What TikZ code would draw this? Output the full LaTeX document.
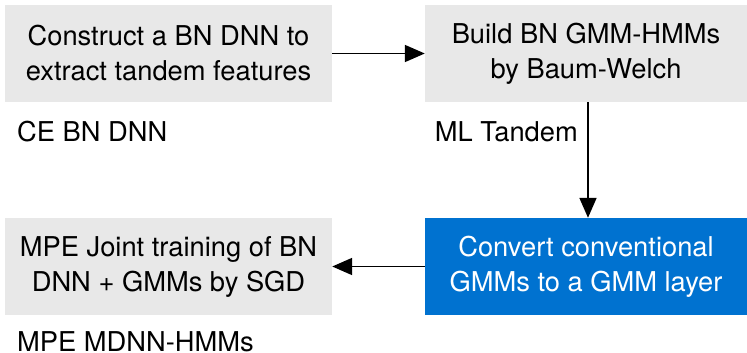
\documentclass[tikz,border=0pt]{standalone}
\usepackage{fontspec}
\setmainfont{TeX Gyre Heros}
\usetikzlibrary{arrows.meta}
\definecolor{boxgray}{HTML}{E8E8E8}
\definecolor{boxblue}{HTML}{0072D0}
\tikzset{
  stepbox/.style={fill=boxgray, align=center, minimum height=97pt, inner sep=0pt},
  flow/.style={-{Triangle[length=20pt,width=17pt]}, line width=1.8pt},
  tag/.style={inner sep=0pt},
}
\begin{document}
\begin{tikzpicture}[x=1pt, y=-1pt, font=\fontsize{27.3}{35}\selectfont]

  \useasboundingbox (0,0) rectangle (747,353);

  \node[stepbox, minimum width=327pt] (bn)  at (168.5,53.5) {Construct a BN DNN to\\extract tandem features};
  \node[stepbox, minimum width=322pt] (gmm) at (586,53.5)   {Build BN GMM-HMMs\\by Baum-Welch};
  \node[stepbox, minimum width=322pt, fill=boxblue, text=white] (conv) at (586,266.5) {Convert conventional\\GMMs to a GMM layer};
  \node[stepbox, minimum width=327pt] (mpe) at (168.5,266.5) {MPE Joint training of BN\\DNN + GMMs by SGD};

  \node[tag, anchor=base west] (ce)   at (17,141)  {CE BN DNN};
  \node[tag, anchor=base east] (ml)   at (578,141) {ML Tandem};
  \node[tag, anchor=base west] (mdnn) at (17,351)  {MPE MDNN-HMMs};

  \draw[flow] (bn) -- (gmm);
  \draw[flow] (gmm.south) ++(2,0) coordinate (g) -- (g |- conv.north);
  \draw[flow] (conv) -- (mpe);
\end{tikzpicture}
\end{document}
